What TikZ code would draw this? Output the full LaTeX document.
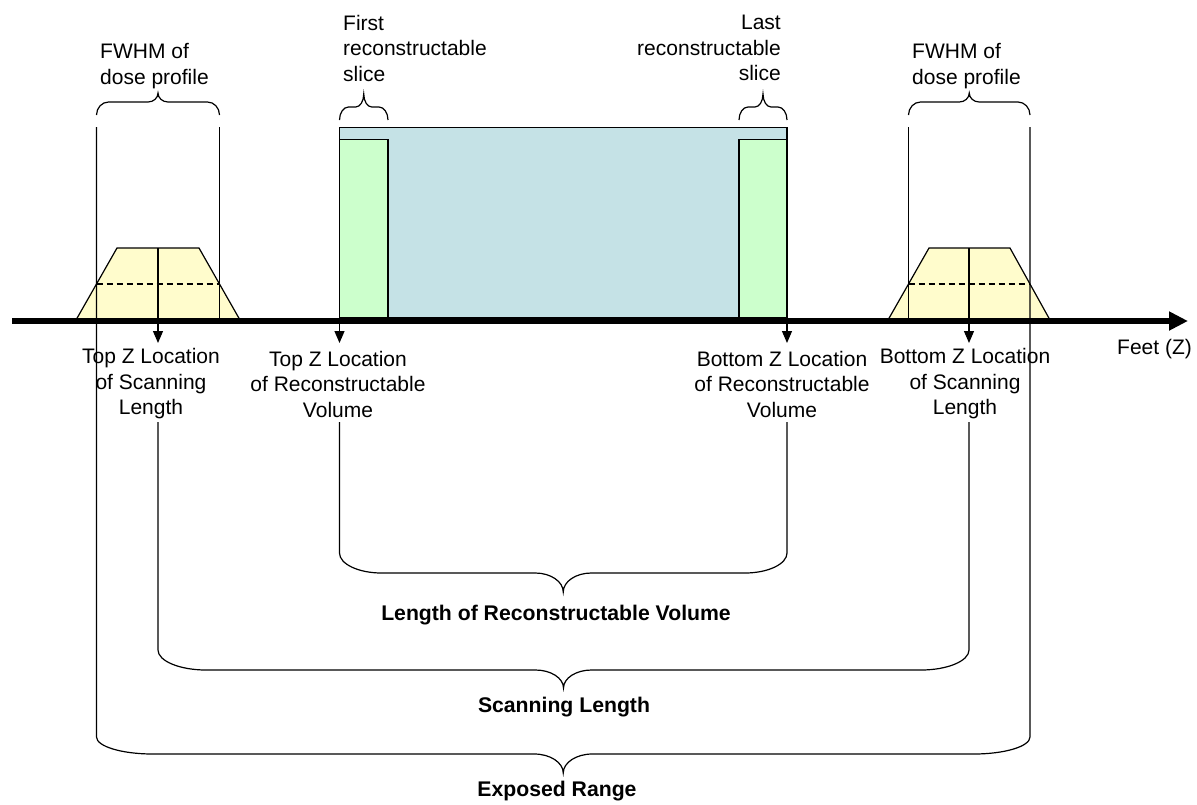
\documentclass[tikz,border=0pt]{standalone}
\usepackage{fontspec}
\setmainfont{Liberation Sans}
\usetikzlibrary{arrows.meta}
\definecolor{blueF}{RGB}{197,226,230}
\definecolor{greenF}{RGB}{204,255,204}
\definecolor{yellowF}{RGB}{255,252,204}
% #1 x1, #2 x2, #3 ytop, #4 yc, #5 yh, #6 ytip, #7 rx, #8 tx
\newcommand\MyBrace[8]{%
  \draw[thinline] (#1,#3) -- (#1,#4)
    .. controls (#1,{#4+0.55*(#5-#4)}) and ({#1+0.45*#7},#5) .. ({#1+#7},#5)
    -- ({(#1+#2)/2-#8},#5)
    .. controls ({(#1+#2)/2-0.45*#8},#5) and ({(#1+#2)/2},{#5+0.45*(#6-#5)}) .. ({(#1+#2)/2},#6)
    .. controls ({(#1+#2)/2},{#5+0.45*(#6-#5)}) and ({(#1+#2)/2+0.45*#8},#5) .. ({(#1+#2)/2+#8},#5)
    -- ({#2-#7},#5)
    .. controls ({#2-0.45*#7},#5) and (#2,{#4+0.55*(#5-#4)}) .. (#2,#4)
    -- (#2,#3);}
\begin{document}
\begin{tikzpicture}[x=1pt,y=-1pt,
  thinline/.style={line width=1.2pt},
  lbl/.style={inner sep=0pt, font=\fontsize{21}{25.5}\selectfont},
  blbl/.style={inner sep=0pt, font=\fontsize{21.2}{25.5}\selectfont\bfseries},
  downarrow/.style={line width=1.2pt, -{Triangle[length=12pt,width=10pt]}},
  trap/.style={fill=yellowF, draw=black, line width=1.2pt, line join=miter},
  fwhmdash/.style={line width=1.2pt, dash pattern=on 6pt off 4pt},
]
\useasboundingbox (0,0) rectangle (1197,804);

% reconstructable volume
\filldraw[fill=blueF, draw=black, line width=1.2pt] (339.5,127.5) rectangle (787,318);
\filldraw[fill=greenF, draw=black, line width=1.2pt] (339.5,139.5) rectangle (388,318);
\filldraw[fill=greenF, draw=black, line width=1.2pt] (739,139.5) rectangle (787,318);

% dose profiles
\draw[trap] (76,320) -- (117,248) -- (199,248) -- (240,320);
\draw[fwhmdash] (96.5,284) -- (219.5,284);
\draw[trap] (888,320) -- (929,248) -- (1010,248) -- (1050,320);
\draw[fwhmdash] (908.5,284) -- (1030,284);

% FWHM verticals
\draw[thinline] (219.5,127) -- (219.5,320);
\draw[thinline] (908.5,127) -- (908.5,320);

% location arrows
\coordinate (topScan) at (158,343);
\coordinate (topRec) at (339.5,343);
\coordinate (botRec) at (787,343);
\coordinate (botScan) at (969,343);
\draw[downarrow] (158,248) -- (topScan);
\draw[downarrow] (339.5,318) -- (topRec);
\draw[downarrow] (787,318) -- (botRec);
\draw[downarrow] (969,248) -- (botScan);

% axis
\coordinate (axL) at (12,321);
\coordinate (axR) at (1188,321);
\draw[line width=5.5pt, -{Triangle[length=19pt,width=18pt]}] (axL) -- (axR);

% top braces
\MyBrace{96.5}{219.5}{115}{115}{102}{93}{12}{10}
\MyBrace{908.5}{1030}{115}{115}{102}{93}{12}{10}
\MyBrace{339.5}{388}{120}{120}{107}{94}{9}{8}
\MyBrace{739}{787}{120}{120}{107}{94}{9}{8}

% bottom braces
\MyBrace{339.5}{787}{422}{553}{573}{592}{42}{28}
\MyBrace{158}{969}{422}{650}{670}{688}{48}{28}
\MyBrace{96.5}{1030}{127}{737}{754}{773}{56}{29}

% texts
\node[lbl, align=left, anchor=west] (fwhmL) at (100,66) {FWHM of\\dose profile};
\node[lbl, align=left, anchor=west] (fwhmR) at (912,66) {FWHM of\\dose profile};
\node[lbl, align=left, anchor=west] (first) at (343,48) {First\\reconstructable\\slice};
\node[lbl, align=right, anchor=east] (last) at (781,48) {Last\\reconstructable\\slice};
\node[lbl, align=center] (tTopScan) at (151,384) {Top Z Location\\of Scanning\\Length};
\node[lbl, align=center] (tTopRec) at (338,384) {Top Z Location\\of Reconstructable\\Volume};
\node[lbl, align=center] (tBotRec) at (782,384) {Bottom Z Location\\of Reconstructable\\Volume};
\node[lbl, align=center] (tBotScan) at (965,384) {Bottom Z Location\\of Scanning\\Length};
\node[lbl, anchor=west] (feet) at (1117,349) {Feet (Z)};
\node[blbl] (lenRec) at (556,615) {Length of Reconstructable Volume};
\node[blbl] (lenScan) at (564,707) {Scanning Length};
\node[blbl] (expo) at (557,791) {Exposed Range};
\end{tikzpicture}
\end{document}
